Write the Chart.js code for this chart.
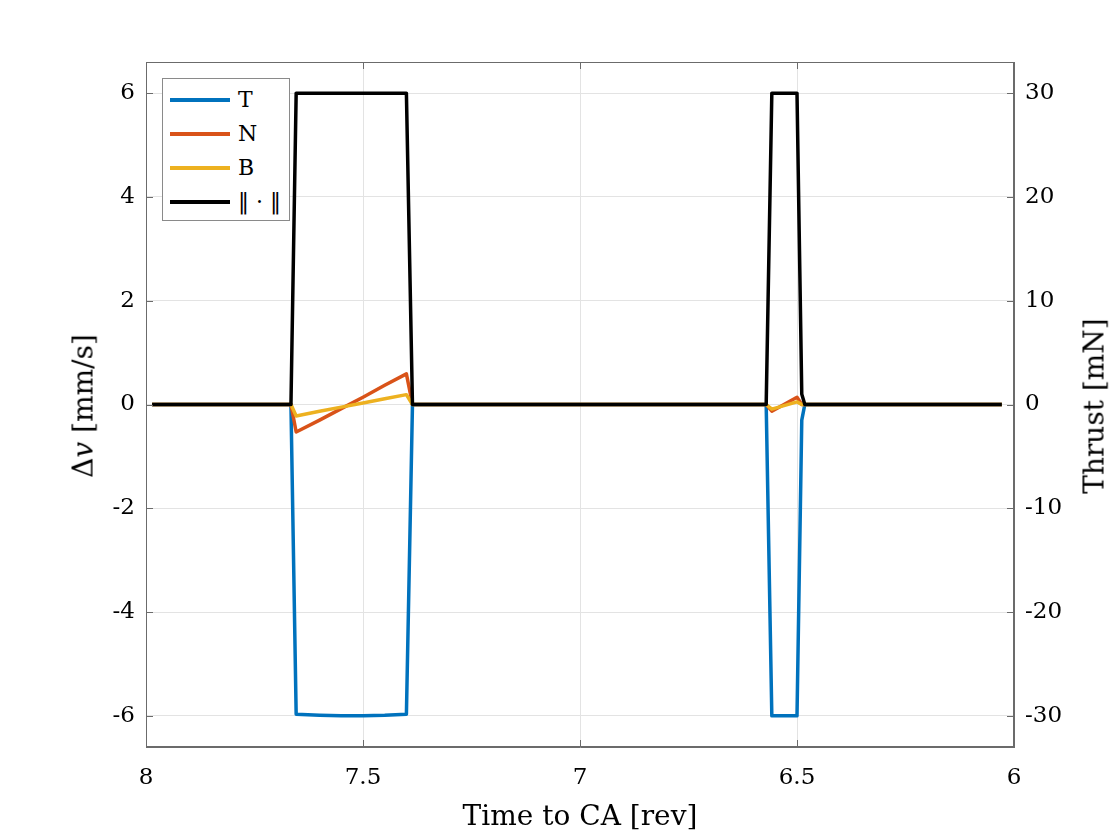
<!DOCTYPE html>
<html>
<head>
<meta charset="utf-8">
<script src="https://cdn.jsdelivr.net/npm/chart.js@4/dist/chart.umd.min.js"></script>
<style>
  html, body { margin: 0; padding: 0; background: #fff; }
  #wrap { position: relative; width: 1120px; height: 840px; }
  canvas { position: absolute; left: 0; top: 0; }
  .ttl { position: absolute; font-family: "DejaVu Serif", serif; color: #000; white-space: nowrap; font-size: 28px; }
  #legend { position: absolute; left: 162px; top: 78px; width: 128px; height: 143px; border: 1px solid #8a8a8a; background: #fff; box-sizing: border-box; }
  .lg { position: absolute; left: 7px; height: 30px; width: 118px; font-family: "DejaVu Serif", serif; font-size: 22px; color: #000; white-space: nowrap; }
  .lg span.ln { position: absolute; left: 0; top: 13px; width: 60px; height: 4px; }
  .lg span.tx { position: absolute; left: 68px; top: 0; line-height: 30px; white-space: nowrap; }
</style>
</head>
<body>
<div id="wrap">
  <canvas id="c" width="1120" height="840"></canvas>
  <div id="legend"></div>
  <div class="ttl" id="xt" style="left:580px; top:815px; transform:translate(-50%,-50%);">Time to CA [rev]</div>
  <div class="ttl" id="yl" style="left:83px; top:406px; transform:translate(-50%,-50%) rotate(-90deg);">Δ<i>v</i> [mm/s]</div>
  <div class="ttl" id="yr" style="left:1094px; top:406px; transform:translate(-50%,-50%) rotate(-90deg);">Thrust [mN]</div>
</div>
<script>
// ---- data ----
const timeRev = [7.986, 7.666, 7.654, 7.60, 7.55, 7.50, 7.45, 7.40, 7.386, 6.571, 6.558, 6.50, 6.489, 6.482, 6.028];
const dvT    = [0, 0, -5.97, -5.99, -6.0, -6.0, -5.99, -5.97, 0, 0, -6.0, -6.0, -0.3, 0, 0];
const dvN    = [0, 0, -0.53, -0.30, -0.08, 0.14, 0.37, 0.59, 0, 0, -0.13, 0.14, 0, 0, 0];
const dvB    = [0, 0, -0.22, -0.13, -0.05, 0.03, 0.11, 0.19, 0, 0, -0.09, 0.05, 0, 0, 0];
const dvNorm = [0, 0, 6.0, 6.0, 6.0, 6.0, 6.0, 6.0, 0, 0, 6.0, 6.0, 0.2, 0, 0];
const seriesNames = ['T', 'N', 'B', '‖ · ‖'];
const seriesColors = ['#0072BD', '#D95319', '#EDB120', '#000000'];
const xTicks = [8, 7.5, 7, 6.5, 6];
const yLeftTicks = [-6, -4, -2, 0, 2, 4, 6];
const yRightTicks = [-30, -20, -10, 0, 10, 20, 30];

const pts = arr => timeRev.map((t, i) => ({ x: t, y: arr[i] }));
const allSeries = [dvT, dvN, dvB, dvNorm];

const datasets = allSeries.map((arr, i) => ({
  label: seriesNames[i],
  data: pts(arr),
  borderColor: seriesColors[i],
  backgroundColor: seriesColors[i],
  borderWidth: 3.5,
  pointRadius: 0,
  tension: 0,
  fill: false,
  yAxisID: 'y',
  order: 3 - i,
  borderJoinStyle: 'round'
}));

// HTML legend
const lg = document.getElementById('legend');
seriesNames.forEach((n, i) => {
  const d = document.createElement('div');
  d.className = 'lg';
  d.style.top = (6 + i * 34) + 'px';
  d.innerHTML = '<span class="ln" style="background:' + seriesColors[i] + '"></span><span class="tx">' + n + '</span>';
  lg.appendChild(d);
});

const tickFont = { family: 'DejaVu Serif', size: 23 };
const axisColor = '#6b6b6b';

const frame = {
  id: 'frame',
  afterDatasetsDraw(chart) {
    const { ctx, chartArea: a, scales } = chart;
    ctx.save();
    ctx.strokeStyle = axisColor;
    ctx.lineWidth = 1;
    ctx.strokeRect(a.left + 0.5, a.top + 0.5, a.right - a.left - 1, a.bottom - a.top - 1);
    ctx.beginPath();
    const L = 7;
    xTicks.forEach(v => {
      const px = Math.round(scales.x.getPixelForValue(v)) + 0.5;
      ctx.moveTo(px, a.bottom); ctx.lineTo(px, a.bottom - L);
      ctx.moveTo(px, a.top); ctx.lineTo(px, a.top + L);
    });
    yLeftTicks.forEach(v => {
      const py = Math.round(scales.y.getPixelForValue(v)) + 0.5;
      ctx.moveTo(a.left, py); ctx.lineTo(a.left + L, py);
    });
    yRightTicks.forEach(v => {
      const py = Math.round(scales.y2.getPixelForValue(v)) + 0.5;
      ctx.moveTo(a.right, py); ctx.lineTo(a.right - L, py);
    });
    ctx.stroke();
    ctx.restore();
  }
};

new Chart(document.getElementById('c'), {
  type: 'line',
  data: { datasets },
  options: {
    responsive: false,
    animation: false,
    layout: { padding: { top: 62, left: 0, right: 0, bottom: 0 } },
    plugins: { legend: { display: false }, tooltip: { enabled: false }, title: { display: false } },
    scales: {
      x: {
        type: 'linear', reverse: true, min: 6, max: 8, position: 'bottom',
        afterBuildTicks: s => { s.ticks = xTicks.map(v => ({ value: v })); },
        afterFit: s => { s.height = 93; },
        ticks: { font: tickFont, color: '#000', padding: 17, maxRotation: 0, callback: v => String(v) },
        grid: { color: '#e3e3e3', drawTicks: false, lineWidth: 1 },
        border: { color: axisColor, width: 1 }
      },
      y: {
        type: 'linear', position: 'left', min: -6.6, max: 6.6,
        afterBuildTicks: s => { s.ticks = yLeftTicks.map(v => ({ value: v })); },
        afterFit: s => { s.width = 146; },
        ticks: { font: tickFont, color: '#000', padding: 11, callback: v => String(v) },
        grid: { color: '#e3e3e3', drawTicks: false, lineWidth: 1 },
        border: { color: axisColor, width: 1 }
      },
      y2: {
        type: 'linear', position: 'right', min: -33, max: 33,
        afterBuildTicks: s => { s.ticks = yRightTicks.map(v => ({ value: v })); },
        afterFit: s => { s.width = 106; },
        ticks: { font: tickFont, color: '#000', padding: 11, callback: v => String(v) },
        grid: { drawOnChartArea: false, drawTicks: false },
        border: { color: axisColor, width: 1 }
      }
    }
  },
  plugins: [frame]
});
</script>
</body>
</html>
